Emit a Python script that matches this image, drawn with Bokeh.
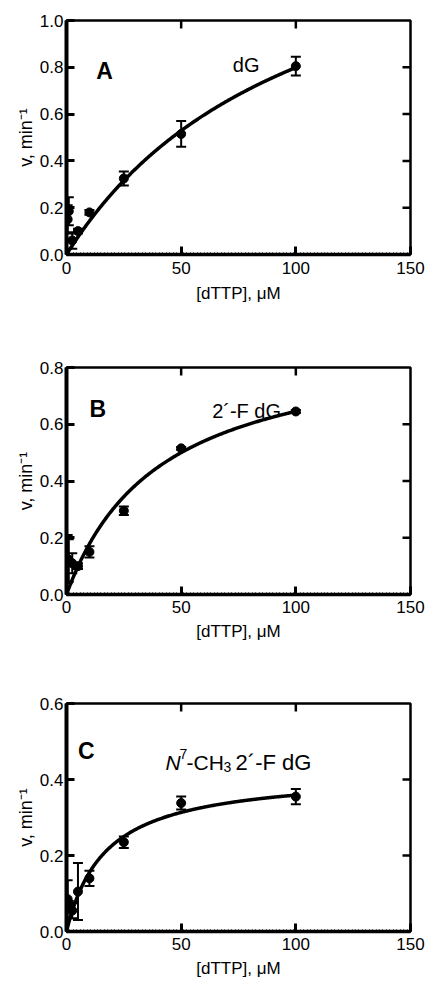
import numpy as np
from bokeh.plotting import figure
from bokeh.models import (ColumnDataSource, Whisker, TeeHead, FixedTicker,
                          Range1d, Label, NumeralTickFormatter)
from bokeh.layouts import column
from bokeh.embed import file_html
from bokeh.resources import INLINE

FONT = "Liberation Sans"

# dTTP concentrations (uM)
conc = [0.5, 1, 2.5, 5, 10, 25, 50, 100]

# Panel A: dG
v_A = [0.15, 0.185, 0.06, 0.10, 0.18, 0.325, 0.515, 0.805]
err_A = [0.06, 0.06, 0.035, 0.01, 0.01, 0.03, 0.055, 0.04]
fit_A = (1.63, 104.0)  # Vmax, Km

# Panel B: 2'-F dG
v_B = [0.125, 0.12, 0.11, 0.10, 0.15, 0.295, 0.515, 0.645]
err_B = [0.085, 0.075, 0.035, 0.01, 0.02, 0.015, 0.005, 0.005]
fit_B = (0.91, 41.0)

# Panel C: N7-CH3 2'-F dG
v_C = [0.085, 0.07, 0.055, 0.105, 0.14, 0.235, 0.338, 0.355]
err_C = [0.05, 0.01, 0.02, 0.075, 0.02, 0.015, 0.017, 0.02]
fit_C = (0.42, 17.0)

x_ticks = [0, 50, 100, 150]
y_ticks_A = [0.0, 0.2, 0.4, 0.6, 0.8, 1.0]
y_ticks_B = [0.0, 0.2, 0.4, 0.6, 0.8]
y_ticks_C = [0.0, 0.2, 0.4, 0.6]


def make_panel(v, err, fit, yticks, ymax, width, height, bl, br, bt, bb,
               lab_std=8, axlab_std=7):
    p = figure(width=width, height=height, output_backend="svg", toolbar_location=None,
               x_range=Range1d(0, 150), y_range=Range1d(0, ymax),
               min_border_left=bl, min_border_right=br, min_border_top=bt,
               min_border_bottom=bb, x_axis_label="[dTTP], \u03bcM",
               y_axis_label="v, min\u207b\u00b9")
    p.outline_line_color = "black"
    p.outline_line_width = 2.5
    p.grid.visible = False
    p.background_fill_color = "white"
    p.border_fill_color = "white"

    xt = FixedTicker(ticks=x_ticks, minor_ticks=list(np.arange(0, 150.1, 1.5)))
    yt = FixedTicker(ticks=yticks, minor_ticks=[])

    xa = p.xaxis[0]
    xa.ticker = xt
    xa.axis_line_width = 3.5
    xa.major_tick_in = 8
    xa.major_tick_out = 0
    xa.major_tick_line_width = 3
    xa.minor_tick_in = 2
    xa.minor_tick_out = 0
    xa.minor_tick_line_width = 1
    xa.major_label_standoff = lab_std
    xa.axis_label_standoff = axlab_std
    xa.major_label_text_font = FONT
    xa.major_label_text_font_size = "17px"
    xa.major_label_text_color = "black"
    xa.axis_label_text_font = FONT
    xa.axis_label_text_font_size = "17px"
    xa.axis_label_text_font_style = "normal"
    xa.axis_label_text_color = "black"

    ya = p.yaxis[0]
    ya.ticker = yt
    ya.formatter = NumeralTickFormatter(format="0.0")
    ya.axis_line_width = 4
    ya.major_tick_in = 8
    ya.major_tick_out = 0
    ya.major_tick_line_width = 3
    ya.minor_tick_in = 0
    ya.minor_tick_out = 0
    ya.major_label_standoff = 3
    ya.axis_label_standoff = 1
    ya.major_label_text_font = FONT
    ya.major_label_text_font_size = "17px"
    ya.major_label_text_color = "black"
    ya.axis_label_text_font = FONT
    ya.axis_label_text_font_size = "18px"
    ya.axis_label_text_font_style = "normal"
    ya.axis_label_text_color = "black"

    # inward mirror ticks on the top and right edges (half of each dash is clipped)
    top_x = [t for t in x_ticks if 0 < t < 150]
    p.scatter(top_x, [ymax] * len(top_x), marker="dash", size=16, angle=np.pi / 2,
              line_color="black", line_width=2.5)
    right_y = [t for t in yticks if 0 < t < ymax]
    p.scatter([150] * len(right_y), right_y, marker="dash", size=16, angle=0,
              line_color="black", line_width=2.5)

    vmax, km = fit
    xs = np.linspace(0, 100, 300)
    ys = vmax * xs / (km + xs)
    p.line(xs, ys, line_color="black", line_width=3.5)

    src = ColumnDataSource(dict(x=conc, v=v,
                                upper=[a + b for a, b in zip(v, err)],
                                lower=[a - b for a, b in zip(v, err)]))
    w = Whisker(source=src, base="x", upper="upper", lower="lower",
                line_color="black", line_width=2,
                upper_head=TeeHead(size=10, line_width=2, line_color="black"),
                lower_head=TeeHead(size=10, line_width=2, line_color="black"))
    p.add_layout(w)
    p.scatter("x", "v", source=src, size=9, fill_color="black", line_color="black")
    return p


def lab(p, x, y, text, size, style="normal", xo=0, yo=0):
    p.add_layout(Label(x=x, y=y, text=text, x_offset=xo, y_offset=yo,
                       text_font=FONT, text_font_size=size,
                       text_font_style=style, text_color="black",
                       text_baseline="alphabetic", text_align="left"))


pA = make_panel(v_A, err_A, fit_A, y_ticks_A, 1.0, 430, 318, 63, 15, 20, 64,
                lab_std=7, axlab_std=7)
lab(pA, 13.0, 0.786, "A", "23px", "bold")
lab(pA, 72.5, 0.808, "dG", "20px")

pB = make_panel(v_B, err_B, fit_B, y_ticks_B, 0.8, 430, 330, 66, 20, 49, 54,
                lab_std=6, axlab_std=6)
lab(pB, 10.0, 0.652, "B", "23px", "bold")
lab(pB, 63.5, 0.648, "2\u00b4-F dG", "20px")

pC = make_panel(v_C, err_C, fit_C, y_ticks_C, 0.6, 430, 336, 66, 20, 55, 53,
                lab_std=6, axlab_std=6)
lab(pC, 5.0, 0.476, "C", "23px", "bold")
lab(pC, 43.2, 0.445, "N", "21px", "italic")
lab(pC, 43.2, 0.445, "7", "14px", xo=14, yo=8)
lab(pC, 43.2, 0.445, "-CH", "21px", xo=21)
lab(pC, 43.2, 0.445, "3", "14px", xo=58, yo=-5)
lab(pC, 43.2, 0.445, "2\u00b4-F dG", "22px", xo=70)

layout = column(pA, pB, pC, spacing=0)
open("out.html", "w").write(file_html(layout, INLINE))
